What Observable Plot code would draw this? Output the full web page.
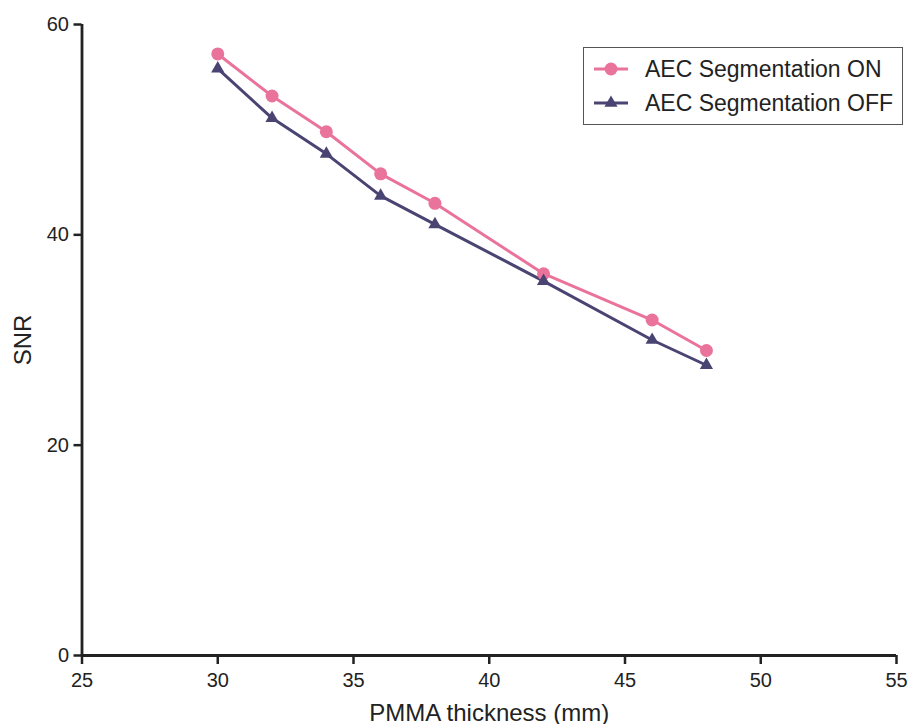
<!DOCTYPE html>
<html>
<head>
<meta charset="utf-8">
<script src="https://cdn.jsdelivr.net/npm/d3@7"></script>
<script src="https://cdn.jsdelivr.net/npm/@observablehq/plot@0.6"></script>
<style>
  html, body { margin: 0; padding: 0; background: #fff; }
  #wrap { position: relative; width: 909px; height: 724px; font-family: "Liberation Sans", Arial, sans-serif; }
  #legend { position: absolute; left: 583px; top: 47px; width: 318px; height: 76px; border: 1.5px solid #555; background: #fff; }
  .row { position: absolute; left: 0; height: 30px; display: flex; align-items: center; }
  .row span { font-size: 23px; color: #222; margin-left: 16px; white-space: nowrap; }
</style>
</head>
<body>
<div id="wrap"></div>
<script>
const thickness = [30, 32, 34, 36, 38, 42, 46, 48];
const snrOn  = [57.2, 53.2, 49.8, 45.8, 43.0, 36.3, 31.9, 29.0];
const snrOff = [55.8, 51.1, 47.7, 43.7, 41.0, 35.6, 30.0, 27.6];
const seriesNames = ["AEC Segmentation ON", "AEC Segmentation OFF"];
const seriesColors = ["#ea739b", "#4a4473"];
const seriesSymbols = ["circle", "triangle"];
const xTicks = [25, 30, 35, 40, 45, 50, 55];
const yTicks = [0, 20, 40, 60];
const xLabel = "PMMA thickness (mm)";
const yLabel = "SNR";

const data = [];
thickness.forEach((t, i) => {
  data.push({x: t, y: snrOn[i], s: seriesNames[0]});
  data.push({x: t, y: snrOff[i], s: seriesNames[1]});
});

const ink = "#222";
const chart = Plot.plot({
  width: 909,
  height: 724,
  marginLeft: 81.5,
  marginRight: 13,
  marginTop: 24,
  marginBottom: 69,
  style: {fontFamily: "'Liberation Sans', Arial, sans-serif", fontSize: "20px", color: ink, background: "#fff"},
  x: {domain: [25, 55]},
  y: {domain: [0, 60]},
  color: {domain: seriesNames, range: seriesColors},
  symbol: {domain: seriesNames, range: seriesSymbols},
  marks: [
    Plot.axisX({ticks: xTicks, tickSize: 9, tickPadding: 8, fontSize: 20, strokeWidth: 2.5, stroke: ink, fill: ink, label: null}),
    Plot.axisY({ticks: yTicks, tickSize: 8, tickPadding: 5, fontSize: 20, strokeWidth: 2.5, stroke: ink, fill: ink, label: null}),
    Plot.ruleY([0], {stroke: ink, strokeWidth: 2.8}),
    Plot.ruleX([25], {stroke: ink, strokeWidth: 2.8}),
    Plot.text([xLabel], {frameAnchor: "bottom", lineAnchor: "bottom", textAnchor: "middle", dy: 65, fontSize: 24, fill: ink}),
    Plot.text([yLabel], {frameAnchor: "left", lineAnchor: "middle", textAnchor: "middle", rotate: -90, dx: -59, fontSize: 24, fill: ink}),
    Plot.line(data, {x: "x", y: "y", z: "s", stroke: "s", strokeWidth: 3}),
    Plot.dot(data.filter(d => d.s === seriesNames[0]), {x: "x", y: "y", fill: "s", symbol: "s", r: 6.5, stroke: null}),
    Plot.dot(data.filter(d => d.s === seriesNames[1]), {x: "x", y: "y", fill: "s", symbol: "s", r: 4.9, stroke: null})
  ]
});

const wrap = document.getElementById("wrap");
wrap.appendChild(chart);

// Legend overlay
const legend = document.createElement("div");
legend.id = "legend";
const rowTops = [6, 40];
const symR = [6.5, 4.9];
seriesNames.forEach((name, i) => {
  const row = document.createElement("div");
  row.className = "row";
  row.style.top = rowTops[i] + "px";
  const svg = d3.create("svg").attr("width", 45).attr("height", 30).style("display", "block");
  svg.append("line").attr("x1", 10).attr("x2", 44).attr("y1", 15).attr("y2", 15)
    .attr("stroke", seriesColors[i]).attr("stroke-width", 3);
  const sym = seriesSymbols[i] === "circle" ? d3.symbolCircle : d3.symbolTriangle;
  svg.append("path").attr("d", d3.symbol().type(sym).size(Math.PI * symR[i] * symR[i])())
    .attr("transform", "translate(27,15)").attr("fill", seriesColors[i]);
  row.appendChild(svg.node());
  const span = document.createElement("span");
  span.textContent = name;
  row.appendChild(span);
  legend.appendChild(row);
});
wrap.appendChild(legend);
</script>
</body>
</html>
